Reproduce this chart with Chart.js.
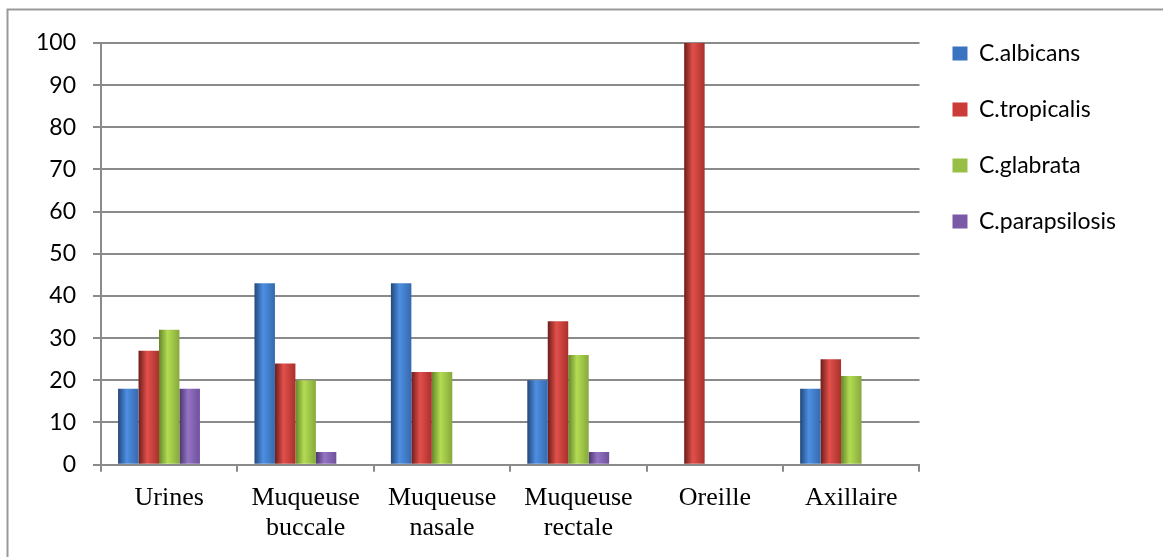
<!DOCTYPE html>
<html>
<head>
<meta charset="utf-8">
<title>Répartition des espèces de Candida selon le site de prélèvement</title>
<script src="https://cdn.jsdelivr.net/npm/chart.js@4.4.1/dist/chart.umd.min.js"></script>
<style>
  html, body { margin: 0; padding: 0; background: #ffffff; }
  #wrap { width: 1163px; height: 557px; position: relative; }
</style>
</head>
<body>
<div id="wrap"><canvas id="chart" width="1163" height="557"></canvas></div>
<script>
// Sites de prélèvement (libellés sur deux lignes si nécessaire)
const categories = [
  ['Urines'],
  ['Muqueuse', 'buccale'],
  ['Muqueuse', 'nasale'],
  ['Muqueuse', 'rectale'],
  ['Oreille'],
  ['Axillaire']
];

// Espèces
const speciesNames = ['C.albicans', 'C.tropicalis', 'C.glabrata', 'C.parapsilosis'];

// Pourcentages par site
const albicans     = [18, 43, 43, 20, 0, 18];
const tropicalis   = [27, 24, 22, 34, 100, 25];
const glabrata     = [32, 20, 22, 26, 0, 21];
const parapsilosis = [18, 3, 0, 3, 0, 0];

// Graduations de l'axe vertical
const yTicks = [0, 10, 20, 30, 40, 50, 60, 70, 80, 90, 100];

// Teintes : [bord sombre, reflet, bord droit], puis couleur de légende
const shades = [
  ['#23477a', '#4d8fe2', '#3669ad'],
  ['#6c1d1a', '#e2504b', '#a9302c'],
  ['#66852a', '#b3dc52', '#86a93b'],
  ['#4b366c', '#9474c4', '#6e509c']
];
const legendColors = ['#3a74c0', '#cc3b37', '#98bf45', '#7a5aa6'];

const seriesValues = [albicans, tropicalis, glabrata, parapsilosis];

const datasets = seriesValues.map((values, i) => ({
  label: speciesNames[i],
  data: values,
  backgroundColor: legendColors[i],
  borderWidth: 0,
  shade: shades[i]
}));
// Emplacement vide (cinquième colonne du groupe, sans légende)
datasets.push({ label: '', data: categories.map(() => null), backgroundColor: 'rgba(0,0,0,0)', borderWidth: 0 });

const GRID = '#8a8a8a';

// Dégradé horizontal « cylindrique » sur chaque barre
const barShading = {
  id: 'barShading',
  afterDatasetsUpdate(chart) {
    const ctx = chart.ctx;
    chart.data.datasets.forEach((ds, i) => {
      if (!ds.shade) return;
      chart.getDatasetMeta(i).data.forEach(bar => {
        const l = bar.x - bar.width / 2;
        const r = bar.x + bar.width / 2;
        const g = ctx.createLinearGradient(l, 0, r, 0);
        g.addColorStop(0, ds.shade[0]);
        g.addColorStop(0.42, ds.shade[1]);
        g.addColorStop(1, ds.shade[2]);
        bar.options = Object.assign({}, bar.options, { backgroundColor: g });
      });
    });
  }
};

// Cadre du graphique
const frame = {
  id: 'frame',
  beforeDraw(chart) {
    const ctx = chart.ctx;
    ctx.save();
    ctx.fillStyle = '#ffffff';
    ctx.fillRect(0, 0, chart.width, chart.height);
    ctx.strokeStyle = '#999999';
    ctx.lineWidth = 2;
    ctx.beginPath();
    ctx.moveTo(7.5, chart.height + 5);
    ctx.lineTo(7.5, 9.5);
    ctx.lineTo(chart.width + 5, 9.5);
    ctx.stroke();
    ctx.restore();
  }
};

new Chart(document.getElementById('chart'), {
  type: 'bar',
  data: { labels: categories, datasets },
  plugins: [barShading, frame],
  options: {
    responsive: false,
    animation: false,
    devicePixelRatio: 1,
    datasets: { bar: { categoryPercentage: 0.75, barPercentage: 1 } },
    layout: { padding: { left: 19, right: 37, top: 9, bottom: 2 } },
    plugins: {
      title: { display: true, text: '', fullSize: false, font: { size: 10 }, padding: { top: 22, bottom: 0 } },
      tooltip: { enabled: false },
      legend: {
        position: 'right',
        align: 'start',
        labels: {
          font: { family: 'Lato', size: 23 },
          color: '#000000',
          boxWidth: 15,
          boxHeight: 14,
          padding: 33,
          filter: item => item.text !== ''
        }
      }
    },
    scales: {
      x: {
        grid: { drawOnChartArea: false, drawTicks: true, tickLength: 7, color: GRID, lineWidth: 2 },
        border: { color: GRID, width: 2 },
        ticks: {
          font: { family: 'Liberation Serif', size: 26, lineHeight: 1.18 },
          color: '#000000',
          padding: 11,
          maxRotation: 0,
          autoSkip: false
        }
      },
      y: {
        min: 0,
        max: 100,
        afterBuildTicks: axis => { axis.ticks = yTicks.map(v => ({ value: v })); },
        grid: { color: GRID, lineWidth: 2, tickLength: 8 },
        border: { color: GRID, width: 2 },
        ticks: {
          font: { family: 'Lato', size: 23 },
          color: '#000000',
          padding: 17
        }
      }
    }
  }
});
</script>
</body>
</html>
